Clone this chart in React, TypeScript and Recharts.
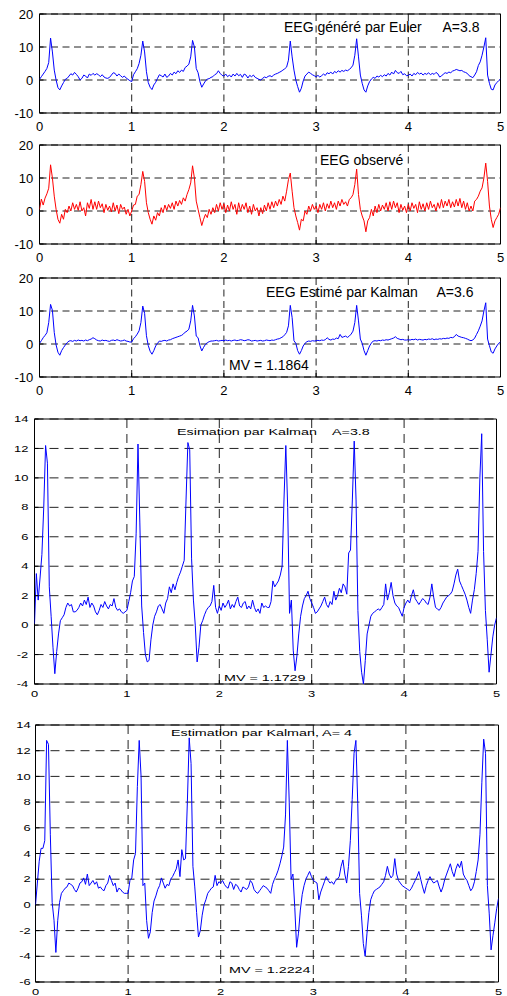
import React from 'react';
import { LineChart, Line, XAxis, YAxis, CartesianGrid, ReferenceArea } from 'recharts';

// sampling step of every series (time axis in seconds, 0..5)
const STEP = 0.02;

const xTicks = [0, 1, 2, 3, 4, 5];
const yTicksTop = [-10, 0, 10, 20];
const yTicksMid = [-4, -2, 0, 2, 4, 6, 8, 10, 12, 14];
const yTicksLow = [-6, -4, -2, 0, 2, 4, 6, 8, 10, 12, 14];

// Panel 1 : EEG généré par Euler A=3.8
const eulerA38 = [
  0.2, 1.0, 1.8, 2.6, 3.5, 5.3, 12.7, 8.5, 3.0, 0.0,
  -2.3, -3.0, -1.8, -0.8, 0.2, 0.5, 1.2, 1.9, 1.5, 2.3,
  1.7, 1.0, 0.0, 0.5, 1.5, 1.2, 0.6, 1.8, 1.4, 2.0,
  1.5, 1.9, 1.6, 1.0, 1.6, 0.9, 0.6, 0.5, 0.8, 1.5,
  2.2, 2.0, 1.2, 1.8, 1.3, 0.8, 1.2, 0.6, 0.2, -0.2,
  -0.5, 1.6, 2.5, 3.4, 5.0, 7.5, 11.8, 8.5, 2.5, -0.8,
  -2.2, -2.9, -1.5, -0.7, 0.5, 1.6, 1.3, 0.9, 1.8, 0.8,
  1.2, 2.0, 1.5, 2.4, 1.9, 2.8, 2.3, 3.0, 2.6, 3.8,
  4.2, 4.8, 7.0, 12.0, 10.0, 3.5, 2.2, -0.5, -2.2, -1.2,
  -0.3, 0.3, 0.4, 0.8, 1.0, 1.6, 1.9, 2.8, 2.0, 1.4,
  1.2, 1.8, 1.0, 1.5, 0.9, 1.8, 1.2, 2.0, 1.3, 1.7,
  0.8, 1.8, 1.5, 0.6, 1.4, 1.0, 1.5, 0.8, 0.5, 0.2,
  0.0, 0.5, 0.9, 0.7, 1.1, 1.3, 1.0, 1.5, 1.8, 2.0,
  2.3, 2.6, 3.0, 3.4, 3.9, 6.0, 11.8, 7.0, 3.0, 0.0,
  -2.0, -3.7, -2.5, -0.3, 1.2, 1.8, 2.4, 2.0, 1.6, 1.3,
  1.0, 1.4, 0.9, 1.3, 1.8, 1.4, 2.2, 1.9, 2.4, 1.8,
  2.6, 2.2, 2.8, 2.4, 2.9, 2.6, 3.0, 2.8, 3.2, 3.7,
  4.5, 7.5, 12.5, 7.0, 1.5, -1.0, -3.0, -3.7, -1.8, -0.5,
  0.3, 0.8, 0.5, 1.2, 0.9, 1.4, 1.0, 1.6, 1.2, 2.0,
  1.5, 2.4, 1.8, 2.9, 2.2, 2.0, 2.6, 1.6, 1.9, 1.3,
  1.4, 1.8, 1.2, 2.0, 1.6, 2.3, 1.8, 2.1, 1.5, 2.0,
  1.7, 2.2, 1.6, 2.0, 1.7, 2.3, 1.9, 0.9, 1.2, 1.8,
  2.2, 2.0, 2.4, 2.2, 2.7, 2.9, 3.2, 3.0, 2.8, 2.9,
  2.5, 2.3, 2.0, 1.3, 1.0, 0.7, 1.5, 2.5, 4.4, 5.5,
  7.5, 10.0, 12.8, 1.5, -1.0, -2.8, -3.0, -1.5, -0.8, -0.2,
  0.3,
];

// Panel 2 : EEG observé
const observed = [
  0.5, 3.6, 1.8, 3.9, 5.2, 6.9, 14.0, 10.0, 4.5, 0.5,
  -2.5, -3.7, -1.0, -2.5, 0.5, -0.5, 1.5, 0.0, 2.5, 0.5,
  2.0, 0.2, 2.8, 0.0, 1.0, -1.5, 2.5, 0.8, 3.5, 0.5,
  2.8, 0.5, 3.0, 1.0, 2.2, -0.5, 2.0, 0.2, 1.5, -0.3,
  2.5, 0.0, 1.8, -0.8, 2.0, 0.5, 1.2, -1.0, 0.5, -1.5,
  0.0, 1.8, 2.0, 4.5, 5.0, 8.0, 12.0, 9.0, 2.5, -0.5,
  -2.5, -4.0, -1.5, -2.8, -0.5, -1.5, 1.0, -0.5, 1.8, 0.2,
  2.0, 0.8, 2.5, 0.5, 3.0, 1.5, 3.2, 2.0, 4.0, 3.0,
  5.0, 6.5, 8.5, 13.7, 10.0, 3.0, 0.5, -2.0, -4.4, -2.5,
  -1.0, -2.0, 0.5, -1.0, 1.0, -0.5, 2.0, 0.0, 2.5, 0.5,
  2.2, -0.5, 1.8, 0.0, 2.8, 0.5, 2.0, -1.0, 2.5, 0.0,
  2.0, 0.5, 2.5, -0.5, 1.5, -1.0, 2.0, 0.0, 1.0, -1.5,
  1.0, -0.8, 1.8, 0.0, 2.5, 0.5, 2.8, 1.0, 3.0, 1.5,
  3.5, 2.0, 4.5, 3.0, 6.0, 9.5, 11.5, 6.0, 1.0, -1.5,
  -3.5, -5.8, -2.5, -3.0, 0.0, -1.0, 1.5, 0.0, 2.0, 0.5,
  1.5, -0.5, 2.0, 0.5, 2.5, 0.0, 2.2, 0.8, 3.0, 1.0,
  2.5, 0.5, 3.0, 1.5, 3.5, 2.0, 2.8, 1.5, 3.5, 4.0,
  5.0, 8.0, 12.7, 5.0, 0.5, -1.5, -3.0, -6.3, -3.0, -2.0,
  0.5, -1.5, 1.5, -0.5, 2.0, 0.0, 1.8, 0.5, 2.5, 0.0,
  2.8, 0.5, 3.0, 1.0, 2.5, -0.5, 2.0, 0.2, 1.5, -0.5,
  2.0, 0.0, 2.5, 0.8, 2.0, -0.5, 2.8, 0.5, 2.2, 0.0,
  2.5, 0.5, 3.0, 1.0, 2.0, 0.0, 2.5, 0.8, 3.5, 1.0,
  3.0, 1.5, 3.5, 1.0, 2.8, 1.2, 3.5, 1.5, 3.8, 1.0,
  3.0, 0.5, 2.5, 0.0, 1.5, 0.0, 3.0, 3.5, 4.5, 6.0,
  7.0, 10.0, 14.5, 9.0, 1.5, -2.5, -5.0, -3.0, -2.0, -1.0,
  1.0,
];

// Panel 3 : EEG Estimé par Kalman A=3.6
const kalmanA36 = [
  0.2, 1.0, 1.9, 2.6, 3.4, 6.5, 12.0, 10.2, 3.5, -0.3,
  -2.5, -3.4, -2.0, -1.1, -0.3, 0.4, 0.9, 1.0, 0.8, 1.1,
  0.9, 1.2, 1.0, 1.1, 0.9, 1.2, 1.0, 1.3, 1.5, 1.9,
  1.6, 1.2, 1.0, 0.9, 1.2, 1.0, 1.1, 0.9, 0.8, 1.1,
  1.2, 1.0, 1.3, 1.1, 0.9, 1.0, 1.2, 0.9, 0.8, 0.6,
  0.6, 1.6, 2.2, 3.0, 4.0, 6.5, 11.5, 9.3, 2.5, -0.5,
  -2.2, -3.1, -2.0, -0.6, 0.2, 0.9, 0.8, 1.0, 1.1, 0.9,
  1.2, 1.3, 1.6, 1.8, 2.0, 2.2, 2.4, 2.6, 3.0, 3.6,
  3.9, 4.5, 7.0, 11.7, 8.5, 2.4, 1.9, -0.5, -2.1, -1.0,
  -0.1, 0.4, 0.7, 0.9, 0.9, 1.0, 1.1, 0.9, 1.0, 1.1,
  1.0, 1.2, 1.0, 1.1, 0.9, 1.1, 1.2, 1.0, 1.1, 1.3,
  1.2, 1.0, 1.1, 1.3, 1.2, 0.9, 1.0, 1.1, 0.9, 1.0,
  1.1, 0.9, 1.0, 1.2, 1.1, 1.0, 1.2, 1.1, 1.3, 1.5,
  1.6, 1.9, 2.2, 2.8, 3.5, 5.5, 11.7, 8.0, 1.0, 0.2,
  -2.0, -3.1, -2.0, -0.6, 0.2, 0.7, 0.9, 0.8, 1.0, 0.9,
  1.0, 1.1, 1.0, 1.2, 1.1, 1.3, 1.9, 1.4, 1.2, 1.5,
  1.4, 1.8, 1.6, 2.9, 2.0, 2.2, 2.4, 2.0, 2.4, 3.0,
  3.9, 6.5, 11.7, 7.0, 1.5, 0.2, -2.0, -3.4, -2.0, -0.6,
  0.3, 0.9, 1.0, 0.9, 1.1, 1.0, 1.2, 1.1, 1.3, 1.2,
  1.4, 1.6, 1.8, 2.2, 1.7, 1.5, 1.3, 1.4, 1.2, 1.2,
  1.3, 1.2, 1.4, 1.3, 1.5, 1.2, 1.4, 1.3, 1.2, 1.4,
  1.3, 1.5, 1.4, 1.6, 1.3, 1.5, 1.4, 1.6, 1.5, 1.7,
  1.6, 1.8, 1.7, 2.0, 1.9, 2.2, 2.9, 2.4, 2.2, 2.0,
  1.9, 1.7, 1.5, 1.2, 1.0, 1.2, 1.8, 2.9, 4.0, 5.4,
  7.0, 10.0, 12.5, 1.5, -0.5, -2.4, -2.8, -1.5, -0.6, 0.2,
  0.6,
];

// Panel 4 : Esimation par Kalman A=3.8
const kalmanA38 = [
  0.1, 3.5, 1.7, 3.2, 4.8, 8.0, 12.2, 11.0, 2.6, 0.6,
  -1.5, -3.3, -1.8, -0.6, 0.3, 0.5, 0.7, 1.2, 1.5, 1.3,
  1.4, 0.9, 0.9, 1.0, 1.2, 1.5, 1.3, 1.7, 1.4, 1.9,
  1.2, 1.5, 1.3, 0.9, 0.7, 1.0, 1.4, 1.2, 1.6, 1.3,
  1.1, 1.4, 1.3, 1.8, 1.2, 1.0, 1.1, 0.9, 0.8, 0.9,
  1.0, 1.6, 2.2, 3.0, 3.3, 6.2, 12.3, 7.0, 1.3, -0.5,
  -2.0, -2.5, -2.4, -1.0, 0.0, 0.6, 0.9, 1.3, 1.4, 1.1,
  0.8, 1.5, 1.8, 2.6, 2.2, 2.8, 2.4, 2.9, 3.3, 3.6,
  4.0, 4.4, 8.5, 12.4, 11.9, 4.5, 1.7, 0.0, -2.5, -1.5,
  0.0, 0.3, 0.7, 1.0, 1.2, 1.3, 1.6, 2.7, 1.2, 0.8,
  1.3, 1.0, 1.5, 1.2, 1.4, 1.7, 1.1, 1.4, 1.2, 1.6,
  1.9, 1.3, 1.2, 1.5, 1.6, 1.1, 1.3, 1.1, 1.7, 1.2,
  0.9, 1.1, 0.8, 1.5, 1.2, 1.3, 1.2, 1.2, 1.6, 3.0,
  2.6, 2.8, 3.0, 3.4, 4.0, 8.5, 12.2, 8.0, 0.8, 1.7,
  -1.7, -3.1, -2.1, -0.6, 0.6, 1.3, 1.8, 2.0, 2.3, 1.8,
  1.5, 1.2, 0.8, 0.9, 1.1, 1.3, 1.6, 1.9, 1.4, 1.2,
  1.6, 1.4, 2.3, 1.7, 2.0, 2.5, 2.2, 2.8, 2.6, 2.1,
  4.9, 5.1, 8.5, 12.5, 8.5, 1.0, -1.8, -3.2, -4.0, -2.4,
  -0.6, 0.0, 0.6, 0.8, 0.9, 1.0, 1.1, 1.0, 1.2, 1.4,
  2.8, 1.7, 2.2, 2.9, 2.0, 1.5, 1.3, 1.2, 0.9, 0.6,
  1.2, 1.5, 1.7, 1.5, 2.0, 2.4, 1.8, 1.6, 1.4, 1.6,
  1.8, 1.7, 1.5, 1.4, 1.9, 2.8, 1.9, 1.2, 1.1, 1.0,
  1.2, 1.5, 1.7, 1.9, 2.0, 2.1, 2.3, 2.8, 3.4, 3.8,
  3.0, 2.7, 2.4, 2.1, 1.7, 1.2, 0.8, 1.7, 2.4, 3.5,
  5.0, 10.0, 13.0, 5.0, 1.0, -1.0, -3.2, -2.0, -0.8, 0.0,
  0.5,
];

// Panel 5 : Estimation par Kalman, A= 4
const kalmanA4 = [
  0.0, 1.7, 3.4, 4.4, 4.4, 5.0, 12.8, 12.5, 5.5, 0.2,
  -1.2, -3.7, -1.2, 0.2, 0.9, 1.1, 1.3, 1.4, 1.7, 1.6,
  1.5, 1.2, 1.0, 1.3, 1.7, 1.8, 2.1, 1.6, 2.4, 1.5,
  1.7, 1.9, 1.6, 1.8, 1.3, 1.4, 1.2, 1.1, 1.5, 1.7,
  2.3, 1.9, 1.5, 1.7, 1.0, 1.3, 1.2, 1.0, 0.9, 0.9,
  0.9, 1.9, 2.1, 3.5, 4.0, 9.2, 12.8, 10.0, 1.5, 1.7,
  -1.2, -2.6, -2.1, -0.6, 0.3, 0.7, 1.2, 1.5, 2.1, 1.7,
  1.3, 1.6, 1.5, 2.0, 2.2, 2.5, 2.8, 3.5, 2.2, 4.3,
  3.5, 3.6, 8.0, 13.0, 11.0, 3.0, 1.4, -0.6, -2.5, -2.0,
  -0.8, 0.0, 0.4, 0.9, 1.1, 1.3, 1.4, 2.3, 1.5, 1.8,
  1.7, 1.9, 1.6, 1.4, 1.3, 1.8, 1.7, 1.2, 1.6, 1.5,
  1.2, 1.0, 1.4, 1.3, 1.2, 1.4, 1.9, 1.7, 1.2, 1.0,
  0.9, 1.1, 1.3, 1.5, 1.4, 1.3, 1.1, 0.9, 1.6, 2.0,
  2.3, 2.7, 3.2, 3.8, 4.5, 7.0, 12.8, 8.0, 2.0, 2.4,
  -0.2, -3.3, -2.2, -0.4, 0.8, 1.5, 2.0, 2.3, 2.6, 2.2,
  1.9, 1.8, 1.7, 0.4, 1.0, 1.4, 1.8, 2.2, 1.9, 1.7,
  1.8, 1.6, 1.9, 2.0, 2.2, 3.0, 3.5, 2.4, 1.7, 3.0,
  5.0, 8.2, 11.8, 12.8, 7.9, 0.9, -0.8, -3.0, -4.0, -2.2,
  -0.6, 0.4, 0.8, 1.1, 1.2, 1.3, 1.4, 1.6, 1.8, 2.3,
  3.0, 2.4, 2.1, 2.3, 3.6, 2.4, 1.9, 1.7, 1.5, 1.4,
  1.3, 1.2, 1.1, 1.3, 1.6, 1.9, 2.2, 2.6, 2.0, 1.4,
  0.9, 1.5, 1.9, 2.2, 1.9, 1.7, 1.8, 1.9, 1.4, 1.0,
  1.4, 2.0, 2.4, 2.8, 3.2, 2.6, 2.2, 2.8, 3.2, 2.9,
  3.4, 2.4, 2.1, 1.9, 1.5, 1.1, 1.3, 1.8, 2.6, 3.5,
  5.5, 9.5, 12.9, 11.8, 1.5, -0.7, -3.5, -2.4, -1.4, -0.3,
  0.5,
];

const W = 507;
const H = 996;
const FONT = '"Liberation Sans", Arial, Helvetica, sans-serif';

type PanelProps = {
  values: number[];
  color: string;
  plotLeft: number;
  plotRight: number;
  plotTop: number;
  plotBottom: number;
  yDomain: [number, number];
  yTicks: number[];
  tickFont: number;
  tickScale: number;
  xLabelOffset: number;
  yLabelGap: number;
  dash: string;
};

function Panel(p: PanelProps) {
  const padTop = 9;
  const padBottom = 26;
  const yW = 30;
  const chartTop = p.plotTop - padTop;
  const plotH = p.plotBottom - p.plotTop;
  const height = padTop + plotH + padBottom;
  const data = p.values.map((v, i) => ({ t: Math.round(i * STEP * 100) / 100, v }));
  const xLabelY = padTop + plotH + p.xLabelOffset;
  const yLabelX = p.plotLeft - p.yLabelGap;
  const tickLineStyle = { stroke: '#000', strokeWidth: 1 };

  const renderX = (props: any) => (
    <text
      transform={`translate(${props.x},${xLabelY}) scale(${p.tickScale},1)`}
      textAnchor="middle"
      dominantBaseline="central"
      fontSize={p.tickFont}
      fontFamily={FONT}
      fill="#000"
    >
      {props.payload.value}
    </text>
  );
  const renderY = (props: any) => (
    <text
      transform={`translate(${yLabelX},${props.y}) scale(${p.tickScale},1)`}
      textAnchor="end"
      dominantBaseline="central"
      fontSize={p.tickFont}
      fontFamily={FONT}
      fill="#000"
    >
      {props.payload.value}
    </text>
  );

  return (
    <div style={{ position: 'absolute', left: 0, top: chartTop, width: W, height }}>
      <LineChart
        width={W}
        height={height}
        data={data}
        margin={{ top: padTop, right: W - p.plotRight, bottom: 0, left: p.plotLeft - yW }}
      >
        <CartesianGrid stroke="#222" strokeDasharray={p.dash} />
        <XAxis
          dataKey="t"
          type="number"
          domain={[0, 5]}
          ticks={xTicks}
          interval={0}
          height={padBottom}
          tick={renderX}
          tickLine={tickLineStyle}
          tickSize={-4}
          axisLine={false}
          allowDataOverflow
        />
        <XAxis
          xAxisId="top"
          orientation="top"
          dataKey="t"
          type="number"
          domain={[0, 5]}
          ticks={xTicks}
          interval={0}
          height={0}
          tick={false}
          tickLine={tickLineStyle}
          tickSize={-4}
          axisLine={false}
          allowDataOverflow
        />
        <YAxis
          type="number"
          domain={p.yDomain}
          ticks={p.yTicks}
          interval={0}
          width={yW}
          tick={renderY}
          tickLine={tickLineStyle}
          tickSize={-4}
          axisLine={false}
          allowDataOverflow
        />
        <YAxis
          yAxisId="right"
          orientation="right"
          type="number"
          domain={p.yDomain}
          ticks={p.yTicks}
          interval={0}
          width={0}
          tick={false}
          tickLine={tickLineStyle}
          tickSize={-4}
          axisLine={false}
          allowDataOverflow
        />
        <ReferenceArea
          x1={0}
          x2={5}
          y1={p.yDomain[0]}
          y2={p.yDomain[1]}
          fill="none"
          fillOpacity={0}
          stroke="#000"
          strokeWidth={1}
          ifOverflow="visible"
        />
        <Line
          type="linear"
          dataKey="v"
          stroke={p.color}
          strokeWidth={1}
          dot={false}
          activeDot={false}
          isAnimationActive={false}
        />
      </LineChart>
    </div>
  );
}

const T = (props: { x: number; y: number; s?: number; fs: number; children: React.ReactNode }) => (
  <text
    transform={`translate(${props.x},${props.y}) scale(${props.s ?? 1},1)`}
    dominantBaseline="central"
    fontSize={props.fs}
    fontFamily={FONT}
    fill="#000"
  >
    {props.children}
  </text>
);

export default function App() {
  const top = { plotLeft: 39.5, plotRight: 500.5, yDomain: [-10, 20] as [number, number], yTicks: yTicksTop, tickFont: 13, tickScale: 1, xLabelOffset: 13.5, yLabelGap: 6.2, dash: '7 4.5' };
  return (
    <div style={{ position: 'absolute', left: 0, top: 0, width: W, height: H, overflow: 'hidden', background: '#fff' }}>
      <Panel {...top} values={eulerA38} color="#0000ff" plotTop={13.5} plotBottom={112.5} />
      <Panel {...top} values={observed} color="#ff0000" plotTop={144.5} plotBottom={243.5} />
      <Panel {...top} values={kalmanA36} color="#0000ff" plotTop={277.5} plotBottom={376.5} />
      <Panel
        values={kalmanA38}
        color="#0000ff"
        plotLeft={34.5}
        plotRight={496.5}
        plotTop={418.5}
        plotBottom={683.5}
        yDomain={[-4, 14]}
        yTicks={yTicksMid}
        tickFont={8.6}
        tickScale={1.5}
        xLabelOffset={9.8}
        yLabelGap={6.2}
        dash="9 6"
      />
      <Panel
        values={kalmanA4}
        color="#0000ff"
        plotLeft={35.5}
        plotRight={498.5}
        plotTop={724.5}
        plotBottom={981.5}
        yDomain={[-6, 14]}
        yTicks={yTicksLow}
        tickFont={8.6}
        tickScale={1.5}
        xLabelOffset={10.2}
        yLabelGap={4.8}
        dash="9 6"
      />
      <svg width={W} height={H} style={{ position: 'absolute', left: 0, top: 0, pointerEvents: 'none' }}>
        <T x={284} y={27} fs={14}>EEG généré par Euler</T>
        <T x={442.5} y={27} fs={14}>A=3.8</T>
        <T x={320} y={160} fs={14}>EEG observé</T>
        <T x={266} y={292} fs={14}>EEG Estimé par Kalman</T>
        <T x={436.5} y={292} fs={14}>A=3.6</T>
        <T x={229} y={365} fs={14}>MV = 1.1864</T>
        <T x={177} y={431.7} fs={9.3} s={1.54}>Esimation par Kalman</T>
        <T x={332} y={431.7} fs={9.3} s={1.54}>A=3.8</T>
        <T x={224} y={678} fs={9.3} s={1.54}>MV = 1.1729</T>
        <T x={171} y={733} fs={9.3} s={1.54}>Estimation par Kalman, A= 4</T>
        <T x={229} y={970} fs={9.3} s={1.54}>MV = 1.2224</T>
      </svg>
    </div>
  );
}
